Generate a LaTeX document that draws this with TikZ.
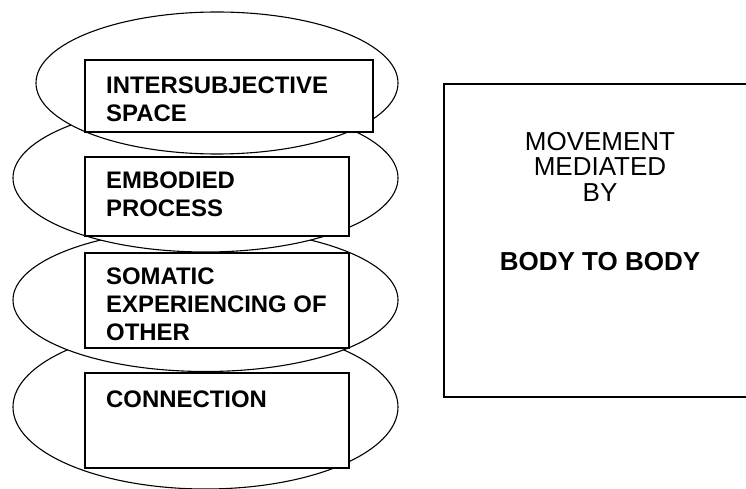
\documentclass[tikz,border=0pt]{standalone}
\usepackage{fontspec}
\setmainfont{Liberation Sans}
\usetikzlibrary{shapes.geometric}
\begin{document}
\begin{tikzpicture}[x=1pt,y=-1pt,
  ell/.style={draw=black, fill=white, ellipse, line width=1.1pt, inner sep=0pt, outer sep=0pt},
  box/.style={draw=black, fill=white, rectangle, line width=1.4pt, inner sep=0pt, outer sep=0pt},
  lbl/.style={anchor=north west, inner sep=0pt, align=left, font=\fontsize{23.9}{28}\selectfont\bfseries},
  rlbl/.style={anchor=north, inner sep=0pt, align=center, font=\fontsize{26}{25.5}\selectfont}
]
\useasboundingbox (0,0) rectangle (746,489);
\begin{scope}
\clip (0,0) rectangle (746,489);
% right box
\node[box, minimum width=316pt, minimum height=313pt] (rb) at (602,240.5) {};
\end{scope}
\node[rlbl] (mov) at (600,131.7) {MOVEMENT\\MEDIATED\\BY};
\node[rlbl, font=\fontsize{26}{25.5}\selectfont\bfseries] (bb) at (600,252.3) {BODY TO BODY};

% stack, back to front
\node[ell, minimum width=385pt, minimum height=164pt] (e4) at (205.5,407) {};
\node[box, minimum width=264pt, minimum height=95pt] (b4) at (217,420.5) {};
\node[lbl] (t4) at (106,391) {CONNECTION};

\node[ell, minimum width=385pt, minimum height=143pt] (e3) at (205.5,300) {};
\node[box, minimum width=264pt, minimum height=95pt] (b3) at (217,300.5) {};
\node[lbl] (t3) at (106,267.3) {SOMATIC\\EXPERIENCING OF\\OTHER};

\node[ell, minimum width=385pt, minimum height=148pt] (e2) at (205.5,178) {};
\node[box, minimum width=264pt, minimum height=79pt] (b2) at (217,196.5) {};
\node[lbl] (t2) at (106,172) {EMBODIED\\PROCESS};

\node[ell, minimum width=362pt, minimum height=142pt] (e1) at (217,83) {};
\node[box, minimum width=288pt, minimum height=72pt] (b1) at (229,96) {};
\node[lbl] (t1) at (106,76.7) {INTERSUBJECTIVE\\SPACE};
\end{tikzpicture}
\end{document}
